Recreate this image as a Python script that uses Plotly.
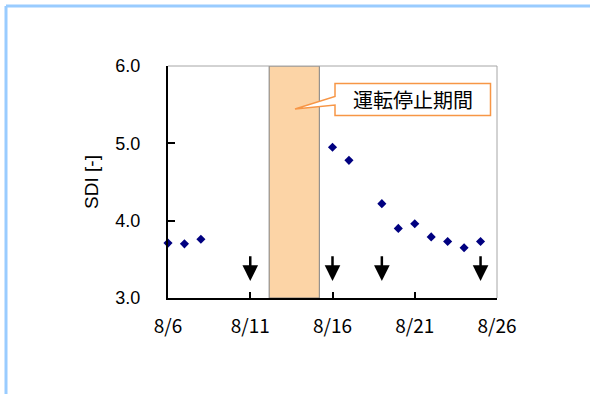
import plotly.graph_objects as go

# ---- data ----
days = [6, 7, 8, 16, 17, 19, 20, 21, 22, 23, 24, 25]
sdi = [3.71, 3.70, 3.76, 4.95, 4.78, 4.22, 3.90, 3.96, 3.79, 3.73, 3.65, 3.73]
arrow_days = [11, 16, 19, 25]
stop_start, stop_end = 12.15, 15.2
x_tickvals = [6, 11, 16, 21, 26]
x_ticktext = ["8/6", "8/11", "8/16", "8/21", "8/26"]
y_tickvals = [3, 4, 5, 6]
y_ticktext = ["3.0", "4.0", "5.0", "6.0"]
callout_text = "運転停止期間"

W, H = 590, 394
L, R, T, B = 168, 497, 66, 298
XMIN, XMAX, YMIN, YMAX = 6, 26, 3, 6


def dx(px):
    return XMIN + (px - L) * (XMAX - XMIN) / (R - L)


def dy(py):
    return YMAX - (py - T) * (YMAX - YMIN) / (B - T)


def paperx(px):
    return (px - L) / (R - L)


def papery(py):
    return (B - py) / (B - T)


fig = go.Figure()
fig.add_trace(go.Scatter(
    x=days, y=sdi, mode="markers",
    marker=dict(symbol="diamond", size=7, color="#000080"),
    showlegend=False, cliponaxis=False,
))

shapes = []
# shutdown period
shapes.append(dict(type="rect", xref="x", yref="y", x0=stop_start, x1=stop_end,
                   y0=YMIN, y1=YMAX, fillcolor="#FCD4A6",
                   line=dict(color="#7F7F7F", width=1), layer="below"))
# top/right thin gray frame
shapes.append(dict(type="line", xref="paper", yref="paper", x0=0, x1=1, y0=1, y1=1,
                   line=dict(color="#A6A6A6", width=1)))
shapes.append(dict(type="line", xref="paper", yref="paper", x0=1, x1=1, y0=0, y1=1,
                   line=dict(color="#A6A6A6", width=1)))
# callout
bx0, bx1 = dx(335), dx(490.5)
by0, by1 = dy(83.5), dy(115.5)
ya, yb = dy(96.5), dy(105)
tx, ty = dx(295), dy(109)
path = (f"M {bx0},{by0} L {bx1},{by0} L {bx1},{by1} L {bx0},{by1} "
        f"L {bx0},{yb} L {tx},{ty} L {bx0},{ya} Z")
shapes.append(dict(type="path", xref="x", yref="y", path=path,
                   fillcolor="white", line=dict(color="#F79646", width=1.5)))
# outer light-blue frame (top and left)
shapes.append(dict(type="line", xref="paper", yref="paper",
                   x0=paperx(6), x1=paperx(592), y0=papery(6), y1=papery(6),
                   line=dict(color="#99CCFF", width=3)))
shapes.append(dict(type="line", xref="paper", yref="paper",
                   x0=paperx(6), x1=paperx(6), y0=papery(6), y1=papery(396),
                   line=dict(color="#99CCFF", width=3)))

annotations = []
for d in arrow_days:
    annotations.append(dict(x=d, y=3.22, ax=d, ay=3.56, xref="x", yref="y",
                            axref="x", ayref="y", showarrow=True, arrowhead=2,
                            arrowsize=1.25, arrowwidth=2.5, arrowcolor="black", text=""))
annotations.append(dict(x=(bx0 + bx1) / 2, y=(by0 + by1) / 2, xref="x", yref="y",
                        text=callout_text, showarrow=False,
                        font=dict(family="Noto Sans CJK JP", size=20, color="black")))

fig.update_layout(
    width=W, height=H,
    margin=dict(l=L, r=W - R, t=T, b=H - B, pad=0),
    paper_bgcolor="white", plot_bgcolor="white",
    shapes=shapes, annotations=annotations,
    xaxis=dict(range=[XMIN, XMAX], tickvals=x_tickvals, ticktext=x_ticktext,
               showgrid=False, zeroline=False, showline=True, linecolor="black",
               linewidth=2, ticks="inside", ticklen=6, tickwidth=2, tickcolor="black",
               tickfont=dict(family="Noto Sans CJK JP", size=19, color="black"),
               ticklabelstandoff=10),
    yaxis=dict(range=[YMIN, YMAX], tickvals=y_tickvals, ticktext=y_ticktext,
               showgrid=False, zeroline=False, showline=True, linecolor="black",
               linewidth=2, ticks="inside", ticklen=7, tickwidth=2, tickcolor="black",
               tickfont=dict(family="Liberation Sans", size=18, color="black"),
               ticklabelstandoff=22,
               title=dict(text="SDI [-]", standoff=12,
                          font=dict(family="Liberation Sans", size=19, color="black"))),
)

fig.write_html("out.html", config={"displayModeBar": False},
               post_script="document.body.style.margin='0';document.body.style.overflow='hidden';")
